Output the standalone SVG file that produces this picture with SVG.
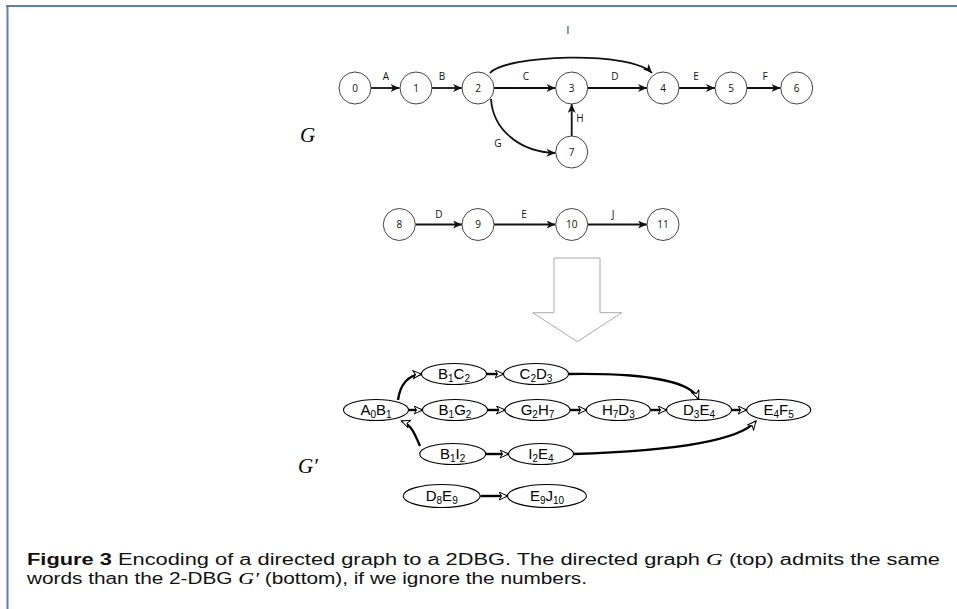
<svg xmlns="http://www.w3.org/2000/svg" width="957" height="609" viewBox="0 0 957 609">
<style>
.nd circle{fill:#fff;stroke:#444;stroke-width:1}
.nl{font-family:"Open Sans","Liberation Sans",sans-serif;font-size:10px;fill:#111;text-anchor:middle}
.el{font-family:"Open Sans","Liberation Sans",sans-serif;font-size:10px;fill:#111;text-anchor:middle}
.te{fill:none;stroke:#111;stroke-width:1.8}
.be{fill:none;stroke:#000;stroke-width:2.4}
.ell ellipse{fill:#fff;stroke:#000;stroke-width:1.1}
.lab{font-family:"Liberation Sans",Arial,sans-serif;font-size:15px;fill:#000;text-anchor:middle}
.s{font-size:10px}
.math{font-family:"Liberation Serif","Times New Roman",serif;font-style:italic;fill:#000}
.cap{font-family:"Liberation Sans",Arial,sans-serif;font-size:16px;fill:#111}
</style>
<defs>
<marker id="ah" markerUnits="userSpaceOnUse" markerWidth="10" markerHeight="10" refX="9" refY="4" orient="auto">
<path d="M0,0 L9,4 L0,8 L2.5,4 z" fill="#111"/>
</marker>
<marker id="oh" markerUnits="userSpaceOnUse" markerWidth="11" markerHeight="10" refX="9" refY="4.5" orient="auto">
<path d="M0.5,0.5 L9,4.5 L0.5,8.5 L3,4.5 z" fill="#fff" stroke="#000" stroke-width="1"/>
</marker>
</defs>
<rect width="957" height="609" fill="#fff"/>
<g id="frame">
<line x1="6" y1="6" x2="957" y2="6" stroke="#5f7fa8" stroke-width="2"/>
<line x1="7.5" y1="5" x2="7.5" y2="609" stroke="#5f7fa8" stroke-width="2"/>
</g>
<g id="connectors">
<path class="te" d="M371,88 L399.5,88" marker-end="url(#ah)"/>
<path class="te" d="M432,88 L462,88" marker-end="url(#ah)"/>
<path class="te" d="M494,88 L555.5,88" marker-end="url(#ah)"/>
<path class="te" d="M588,88 L647,88" marker-end="url(#ah)"/>
<path class="te" d="M679,88 L715,88" marker-end="url(#ah)"/>
<path class="te" d="M747,88 L780.5,88" marker-end="url(#ah)"/>
<path class="te" d="M571.7,136 L571.7,104" marker-end="url(#ah)"/>
<path class="te" d="M490,73 C505,55 630,50 652,73" marker-end="url(#ah)"/>
<path class="te" d="M491,99 C493,130 520,152 555.5,153" marker-end="url(#ah)"/>
<path class="te" d="M415.5,224.5 L462,224.5" marker-end="url(#ah)"/>
<path class="te" d="M494,224.5 L555.5,224.5" marker-end="url(#ah)"/>
<path class="te" d="M588,224.5 L647,224.5" marker-end="url(#ah)"/>
<path class="be" d="M398,400 C400,385 408,375 421.5,374" marker-end="url(#oh)"/>
<path class="be" d="M408.5,410 L422.5,410" marker-end="url(#oh)"/>
<path class="be" d="M420,446 C415,435 412,425 401.5,421" marker-end="url(#oh)"/>
<path class="be" d="M486.5,374 L503.5,374" marker-end="url(#oh)"/>
<path class="be" d="M487.5,410 L505,410" marker-end="url(#oh)"/>
<path class="be" d="M570,410 L586.5,410" marker-end="url(#oh)"/>
<path class="be" d="M650.5,410 L666.5,410" marker-end="url(#oh)"/>
<path class="be" d="M731.5,410 L746.5,410" marker-end="url(#oh)"/>
<path class="be" d="M568.5,374 C630,373 690,378 698.5,399" marker-end="url(#oh)"/>
<path class="be" d="M573.5,454 C640,452 735,446 756,421" marker-end="url(#oh)"/>
<path class="be" d="M486,454 L508.5,454" marker-end="url(#oh)"/>
<path class="be" d="M480.5,496 L507.5,496" marker-end="url(#oh)"/>
</g>
<g id="edge-labels">
<text class="el" x="386" y="80">A</text>
<text class="el" x="442" y="80">B</text>
<text class="el" x="526" y="80">C</text>
<text class="el" x="615" y="80">D</text>
<text class="el" x="696" y="80">E</text>
<text class="el" x="765" y="80">F</text>
<text class="el" x="568" y="34">I</text>
<text class="el" x="580" y="122">H</text>
<text class="el" x="498" y="147">G</text>
<text class="el" x="439" y="218">D</text>
<text class="el" x="524" y="218">E</text>
<text class="el" x="613" y="218">J</text>
</g>
<g id="n0" class="nd"><circle cx="355" cy="88" r="16"/><text class="nl" x="355" y="91.5">0</text></g>
<g id="n1" class="nd"><circle cx="416" cy="88" r="16"/><text class="nl" x="416" y="91.5">1</text></g>
<g id="n2" class="nd"><circle cx="478" cy="88" r="16"/><text class="nl" x="478" y="91.5">2</text></g>
<g id="n3" class="nd"><circle cx="571.7" cy="88" r="16"/><text class="nl" x="571.7" y="91.5">3</text></g>
<g id="n4" class="nd"><circle cx="663" cy="88" r="16"/><text class="nl" x="663" y="91.5">4</text></g>
<g id="n5" class="nd"><circle cx="731" cy="88" r="16"/><text class="nl" x="731" y="91.5">5</text></g>
<g id="n6" class="nd"><circle cx="796.7" cy="88" r="16"/><text class="nl" x="796.7" y="91.5">6</text></g>
<g id="n7" class="nd"><circle cx="571.7" cy="152" r="16"/><text class="nl" x="571.7" y="155.5">7</text></g>
<g id="n8" class="nd"><circle cx="399.3" cy="224.5" r="16"/><text class="nl" x="399.3" y="228">8</text></g>
<g id="n9" class="nd"><circle cx="478" cy="224.5" r="16"/><text class="nl" x="478" y="228">9</text></g>
<g id="n10" class="nd"><circle cx="571.7" cy="224.5" r="16"/><text class="nl" x="571.7" y="228">10</text></g>
<g id="n11" class="nd"><circle cx="663" cy="224.5" r="16"/><text class="nl" x="663" y="228">11</text></g>
<g id="big-arrow">
<path d="M554,258 L600,258 L600,312.7 L621.7,312.7 L577.3,341.7 L532.7,312.7 L554,312.7 z" fill="#fff" stroke="#aaa" stroke-width="1"/>
</g>
<text class="math" x="300" y="142" font-size="21">G</text>
<text class="math" x="298" y="473" font-size="21">G′</text>
<g id="A0B1" class="ell"><ellipse cx="376" cy="410" rx="32.5" ry="10.5"/><text class="lab" x="376" y="415">A<tspan class="s" dy="3">0</tspan><tspan dy="-3">B</tspan><tspan class="s" dy="3">1</tspan></text></g>
<g id="B1C2" class="ell"><ellipse cx="454" cy="374" rx="32.5" ry="10.5"/><text class="lab" x="454" y="379">B<tspan class="s" dy="3">1</tspan><tspan dy="-3">C</tspan><tspan class="s" dy="3">2</tspan></text></g>
<g id="C2D3" class="ell"><ellipse cx="536" cy="374" rx="32.5" ry="10.5"/><text class="lab" x="536" y="379">C<tspan class="s" dy="3">2</tspan><tspan dy="-3">D</tspan><tspan class="s" dy="3">3</tspan></text></g>
<g id="B1G2" class="ell"><ellipse cx="455" cy="410" rx="32.5" ry="10.5"/><text class="lab" x="455" y="415">B<tspan class="s" dy="3">1</tspan><tspan dy="-3">G</tspan><tspan class="s" dy="3">2</tspan></text></g>
<g id="G2H7" class="ell"><ellipse cx="537.5" cy="410" rx="32.5" ry="10.5"/><text class="lab" x="537.5" y="415">G<tspan class="s" dy="3">2</tspan><tspan dy="-3">H</tspan><tspan class="s" dy="3">7</tspan></text></g>
<g id="H7D3" class="ell"><ellipse cx="618.3" cy="410" rx="32" ry="10.5"/><text class="lab" x="618.3" y="415">H<tspan class="s" dy="3">7</tspan><tspan dy="-3">D</tspan><tspan class="s" dy="3">3</tspan></text></g>
<g id="D3E4" class="ell"><ellipse cx="699" cy="410" rx="32.5" ry="10.5"/><text class="lab" x="699" y="415">D<tspan class="s" dy="3">3</tspan><tspan dy="-3">E</tspan><tspan class="s" dy="3">4</tspan></text></g>
<g id="E4F5" class="ell"><ellipse cx="778.7" cy="410" rx="32" ry="10.5"/><text class="lab" x="778.7" y="415">E<tspan class="s" dy="3">4</tspan><tspan dy="-3">F</tspan><tspan class="s" dy="3">5</tspan></text></g>
<g id="B1I2" class="ell"><ellipse cx="452.7" cy="454" rx="33" ry="10.5"/><text class="lab" x="452.7" y="459">B<tspan class="s" dy="3">1</tspan><tspan dy="-3">I</tspan><tspan class="s" dy="3">2</tspan></text></g>
<g id="I2E4" class="ell"><ellipse cx="541" cy="454" rx="32.5" ry="10.5"/><text class="lab" x="541" y="459">I<tspan class="s" dy="3">2</tspan><tspan dy="-3">E</tspan><tspan class="s" dy="3">4</tspan></text></g>
<g id="D8E9" class="ell"><ellipse cx="441.7" cy="496" rx="38.5" ry="11.5"/><text class="lab" x="441.7" y="501">D<tspan class="s" dy="3">8</tspan><tspan dy="-3">E</tspan><tspan class="s" dy="3">9</tspan></text></g>
<g id="E9J10" class="ell"><ellipse cx="547" cy="496" rx="39.5" ry="11.5"/><text class="lab" x="547" y="501">E<tspan class="s" dy="3">9</tspan><tspan dy="-3">J</tspan><tspan class="s" dy="3">10</tspan></text></g>
<g id="caption">
<text class="cap" x="27" y="565" textLength="913" lengthAdjust="spacingAndGlyphs"><tspan font-weight="bold">Figure 3</tspan> Encoding of a directed graph to a 2DBG. The directed graph <tspan class="math" font-size="17">G</tspan> (top) admits the same</text>
<text class="cap" x="27" y="584" textLength="560" lengthAdjust="spacingAndGlyphs">words than the 2-DBG <tspan class="math" font-size="17">G′</tspan> (bottom), if we ignore the numbers.</text>
</g>
</svg>
